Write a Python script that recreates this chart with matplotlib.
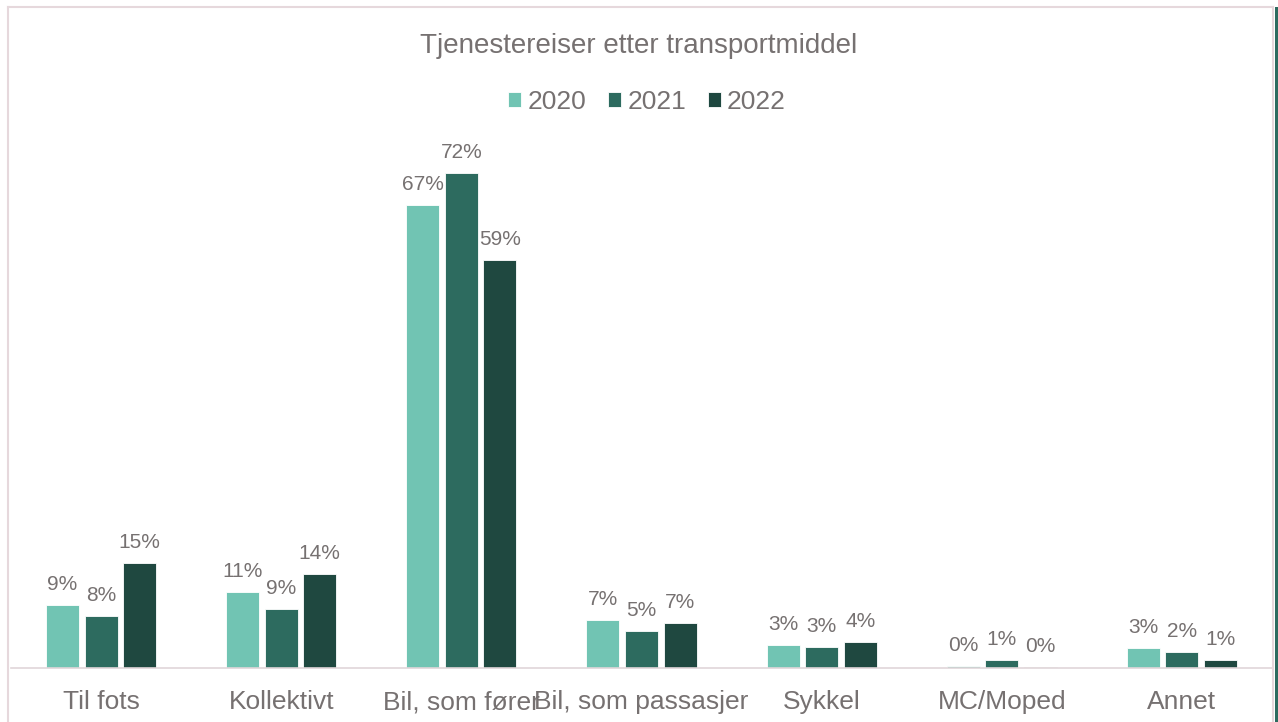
import matplotlib.pyplot as plt
import numpy as np
from matplotlib.patches import Rectangle
from matplotlib.lines import Line2D

plt.rcParams['font.family'] = ['Liberation Sans', 'DejaVu Sans']

categories = ["Til fots", "Kollektivt", "Bil, som fører", "Bil, som passasjer",
              "Sykkel", "MC/Moped", "Annet"]
years = ["2020", "2021", "2022"]
v2020 = [9.2, 11.0, 67.4, 7.0, 3.3, 0.3, 2.9]
v2021 = [7.5, 8.6, 72.0, 5.4, 3.0, 1.2, 2.3]
v2022 = [15.3, 13.7, 59.3, 6.5, 3.8, 0.15, 1.2]
labels2020 = ["9%", "11%", "67%", "7%", "3%", "0%", "3%"]
labels2021 = ["8%", "9%", "72%", "5%", "3%", "1%", "2%"]
labels2022 = ["15%", "14%", "59%", "7%", "4%", "0%", "1%"]

colors = ["#71c4b3", "#2d6b5f", "#1f4840"]
textcol = "#767171"

fig = plt.figure(figsize=(12.78, 7.22), dpi=100)
ax = fig.add_axes([11/1278, 54/722, 1261/1278, (668-131.75)/722])

x = np.arange(len(categories))
step = 38.5/180
w = 33/180
series = [v2020, v2021, v2022]
lbls = [labels2020, labels2021, labels2022]
for i in range(3):
    bars = ax.bar(x + (i-1)*step, series[i], width=w, color=colors[i],
                  edgecolor="white", linewidth=0.6, label=years[i])
    ax.bar_label(bars, labels=lbls[i], padding=8, fontsize=15, color=textcol)

ax.set_xlim(-0.5, len(categories)-0.5)
ax.set_ylim(0, 78)
ax.set_xticks(x)
ax.set_xticklabels(categories, fontsize=19, color=textcol)
ax.tick_params(axis="x", length=0, pad=16)
ax.set_yticks([])
for s in ["left", "right", "top"]:
    ax.spines[s].set_visible(False)
ax.spines["bottom"].set_color("#e0d6d9")
ax.spines["bottom"].set_linewidth(1.2)

fig.text(0.5, 1-46/722, "Tjenestereiser etter transportmiddel", ha="center",
         va="center", fontsize=20, color=textcol)
leg = fig.legend(loc="center", bbox_to_anchor=(647/1278, 1-102/722), ncol=3,
                 frameon=False, fontsize=19, handlelength=0.5, handleheight=0.5,
                 handletextpad=0.23, columnspacing=0.83)
for t in leg.get_texts():
    t.set_color(textcol)

# chart border
fig.add_artist(Line2D([8/1278, 8/1278], [0, 1-7/722], color="#e6d8dc", lw=1.5))
fig.add_artist(Line2D([8/1278, 1273/1278], [1-7/722, 1-7/722], color="#e6d8dc", lw=1.5))
fig.add_artist(Line2D([1273/1278, 1273/1278], [0, 1-7/722], color="#e6d8dc", lw=1.5))
fig.add_artist(Rectangle((1275/1278, 0), 3/1278, 1-7/722, transform=fig.transFigure,
                         color="#2d6b5f", lw=0))

plt.savefig("out.png", dpi=100)
